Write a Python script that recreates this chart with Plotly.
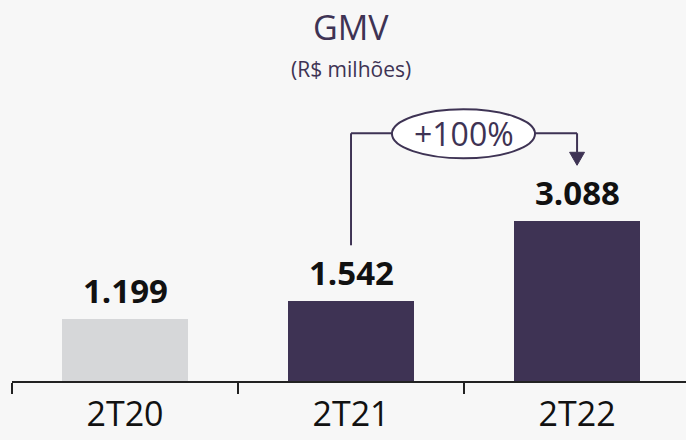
import plotly.graph_objects as go

categories = ["2T20", "2T21", "2T22"]
values = [1199, 1542, 3088]
value_labels = ["1.199", "1.542", "3.088"]
bar_colors = ["#d6d7d9", "#3e3354", "#3e3354"]
growth_label = "+100%"
title_text = "GMV"
subtitle_text = "(R$ milhões)"

PURPLE = "#3e3354"
BG = "#f7f7f7"
FONT = "Open Sans"

y_max = 7353

fig = go.Figure()
fig.add_trace(go.Bar(
    x=categories, y=values, width=0.558,
    marker=dict(color=bar_colors, line=dict(width=0)),
    hoverinfo="skip",
))

# value labels
for xi, v, lab in zip(range(len(categories)), values, value_labels):
    fig.add_annotation(x=xi, y=v, text=f"<b>{lab}</b>", showarrow=False,
                       xanchor="center", yanchor="bottom", yshift=4,
                       font=dict(family=FONT, size=33, color="#111111"))

# growth bracket from 2T21 to 2T22
y_bracket = 4781
y_start = 2619
y_arrow_base = 4414
y_arrow_tip = 4163
ell_x0, ell_x1 = 1.181, 1.814
ell_y0, ell_y1 = 4298, 5244
line_style = dict(color=PURPLE, width=2)

fig.add_shape(type="line", x0=1, x1=1, y0=y_start, y1=y_bracket, line=line_style)
fig.add_shape(type="line", x0=1, x1=ell_x0, y0=y_bracket, y1=y_bracket, line=line_style)
fig.add_shape(type="line", x0=ell_x1, x1=2, y0=y_bracket, y1=y_bracket, line=line_style)
fig.add_shape(type="line", x0=2, x1=2, y0=y_bracket, y1=y_arrow_base, line=line_style)
fig.add_shape(type="path",
              path=f"M 1.967,{y_arrow_base} L 2.033,{y_arrow_base} L 2,{y_arrow_tip} Z",
              fillcolor=PURPLE, line=dict(color=PURPLE, width=1))
fig.add_shape(type="circle", x0=ell_x0, x1=ell_x1, y0=ell_y0, y1=ell_y1,
              fillcolor="white", line=dict(color=PURPLE, width=2))
fig.add_annotation(x=1.5, y=y_bracket, text=growth_label, showarrow=False,
                   xanchor="center", yanchor="middle",
                   font=dict(family=FONT, size=32, color=PURPLE))

# title / subtitle
fig.add_annotation(x=1, xref="x", y=(381 - 27) / 381, yref="paper", text=title_text,
                   showarrow=False, xanchor="center", yanchor="middle",
                   font=dict(family=FONT, size=34, color=PURPLE))
fig.add_annotation(x=1, xref="x", y=(381 - 69) / 381, yref="paper", text=subtitle_text,
                   showarrow=False, xanchor="center", yanchor="middle",
                   font=dict(family=FONT, size=21, color=PURPLE))

fig.update_layout(
    width=686, height=440,
    margin=dict(l=12, r=0, t=0, b=59),
    paper_bgcolor=BG, plot_bgcolor=BG,
    showlegend=False,
    bargap=0,
    xaxis=dict(
        type="category",
        range=[-0.5, 2.482],
        tickson="boundaries",
        automargin=False,
        showgrid=False, zeroline=False,
        showline=True, linecolor="#222222", linewidth=2,
        ticks="outside", ticklen=11, tickwidth=2, tickcolor="#222222",
        ticklabelstandoff=2,
        tickfont=dict(family=FONT, size=34, color="#111111"),
        fixedrange=True,
    ),
    yaxis=dict(range=[0, y_max], visible=False, fixedrange=True),
)

fig.write_html("out.html", config={"displayModeBar": False},
               post_script="document.body.style.margin='0';")
